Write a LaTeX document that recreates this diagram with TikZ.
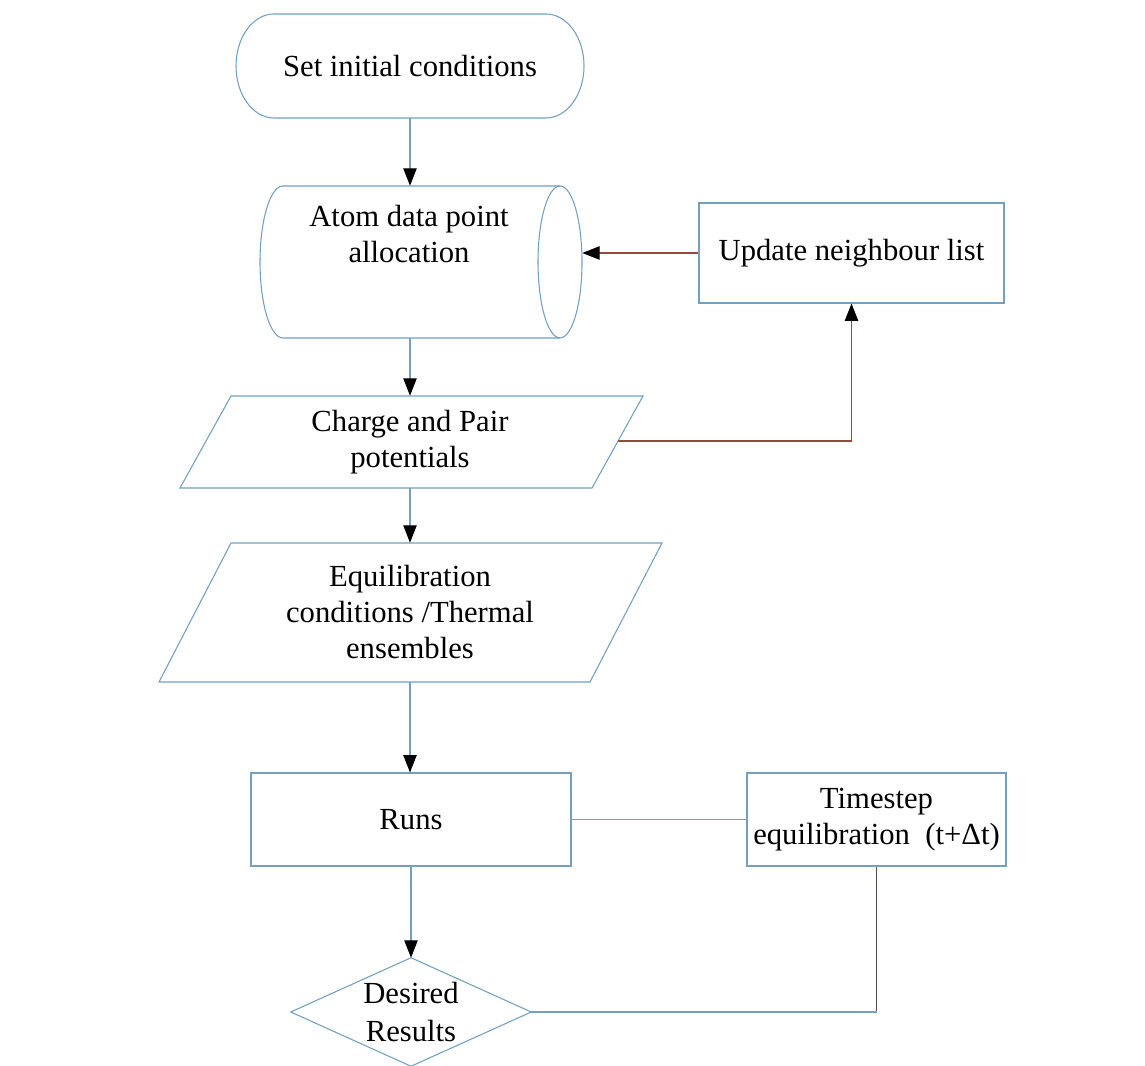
\documentclass[tikz,border=0pt]{standalone}
\usepackage{fontspec}
\setmainfont{Liberation Serif}
\usetikzlibrary{arrows.meta}
\definecolor{edgeblue}{RGB}{115,160,190}
\definecolor{edgebrown}{RGB}{150,75,55}
\definecolor{edgedark}{RGB}{90,70,70}
\def\pxu{0.75pt}
\tikzset{
  lbl/.style={align=center, inner sep=0pt, font=\fontsize{23}{27}\selectfont, text=black},
  holder/.style={inner sep=0pt, draw=none},
  outline/.style={draw=edgeblue, line width=0.8pt},
  boxed/.style={lbl, draw=edgeblue, line width=0.8pt},
  conn/.style={draw=edgeblue, line width=0.8pt},
  fb/.style={draw=edgebrown, line width=0.8pt},
  dk/.style={draw=edgedark, line width=0.8pt},
  arr/.style={-{Triangle[length=13pt,width=10pt,color=black]}},
}
\begin{document}
\begin{tikzpicture}[x=0.75pt,y=0.75pt]
\useasboundingbox (0,0) rectangle (1145,1066);
\fill[white] (0,0) rectangle (1145,1066);

% terminator
\draw[outline] (274,1052) -- (546,1052) arc[start angle=90,end angle=-90,x radius=38,y radius=52]
  -- (274,948) arc[start angle=270,end angle=90,x radius=38,y radius=52] -- cycle;
\node[lbl, minimum width=352*\pxu, minimum height=104*\pxu] (start) at (410,1000) {Set initial conditions};

% cylinder
\draw[outline] (283,880) -- (560,880) arc[start angle=90,end angle=-90,x radius=22,y radius=76]
  -- (283,728) arc[start angle=270,end angle=90,x radius=23,y radius=76] -- cycle;
\draw[outline] (560,880) arc[start angle=90,end angle=270,x radius=22,y radius=76];
\node[holder, minimum width=322*\pxu, minimum height=152*\pxu] (cyl) at (421,804) {};
\node[lbl] (cyltext) at (409,832) {Atom data point\\allocation};

% update box
\node[boxed, minimum width=305*\pxu, minimum height=100*\pxu] (upd) at (851.5,813) {Update neighbour list};

% parallelogram 1
\draw[outline] (231,670) -- (643,670) -- (592,578) -- (180,578) -- cycle;
\node[lbl, minimum width=360*\pxu, minimum height=92*\pxu] (p1) at (410,624) {Charge and Pair\\potentials};
\coordinate (p1r) at (618,625);

% parallelogram 2
\draw[outline] (231,523) -- (662,523) -- (590,384) -- (159,384) -- cycle;
\node[lbl, minimum width=360*\pxu, minimum height=139*\pxu] (p2) at (410,453.5) {Equilibration\\conditions /Thermal\\ensembles};

% runs
\node[boxed, minimum width=320*\pxu, minimum height=93*\pxu] (runs) at (411,246.5) {Runs};

% timestep
\node[boxed, minimum width=259*\pxu, minimum height=93*\pxu] (ts) at (876.5,246.5) {Timestep\\equilibration~~(t+Δt)};

% diamond
\node[lbl, minimum width=240*\pxu, minimum height=108*\pxu, font=\fontsize{23}{29}\selectfont] (dia) at (411,54) {Desired\\Results};
\draw[outline] (dia.north) -- (dia.east) -- (dia.south) -- (dia.west) -- cycle;

% connectors
\draw[conn, arr] (start.south) -- (start.south |- cyl.north);
\draw[conn, arr] (cyl.south -| start.south) -- (p1.north);
\draw[fb, arr] (upd.west) -- (upd.west -| cyl.east);
\draw[fb, arr] (p1r) -| (upd.south);
\draw[conn, arr] (p1.south) -- (p2.north);
\draw[conn, arr] (p2.south) -- (p2.south |- runs.north);
\draw[conn] (runs.east) -- (ts.west);
\draw[conn, arr] (runs.south) -- (dia.north);
\draw[dk] (ts.south) -- (ts.south |- dia.east);
\draw[conn] (ts.south |- dia.east) -- (dia.east);
\end{tikzpicture}
\end{document}
